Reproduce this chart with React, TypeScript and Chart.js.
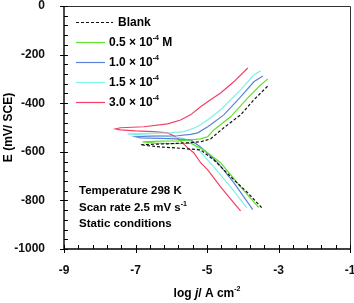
import React, { useEffect, useRef } from "react";
import { Chart, registerables } from "chart.js";
Chart.register(...registerables);

// ---- data (log j / A cm^-2 , E / mV vs SCE) ----
const blankX = [-3.47, -3.86, -4.25, -4.81, -5.18, -5.54, -5.88, -6.3, -6.86, -6.1, -5.54, -5.18, -4.9, -4.53, -4.06, -3.69, -3.27];
const blankY = [-830, -769, -715, -633, -592, -588, -584, -580, -571, -567, -563, -559, -547, -501, -448, -386, -325];

const c05X = [-3.55, -4.06, -4.62, -5.09, -5.46, -6.02, -6.44, -6.8, -6.3, -5.82, -5.46, -5.18, -4.98, -4.81, -4.34, -3.86, -3.5, -3.3];
const c05Y = [-830, -744, -645, -592, -565, -566, -564, -559, -556, -555, -551, -547, -538, -510, -456, -378, -325, -300];

const c10X = [-3.72, -4.25, -4.7, -5.18, -5.46, -5.88, -6.3, -6.86, -7.0, -6.58, -5.82, -5.46, -5.26, -4.98, -4.9, -4.53, -4.06, -3.69, -3.44];
const c10Y = [-838, -727, -645, -580, -551, -547, -545, -543, -538, -536, -534, -528, -522, -497, -489, -448, -374, -312, -288];

const c15X = [-3.89, -4.34, -4.81, -5.18, -5.46, -5.74, -6.3, -6.86, -7.22, -6.58, -6.02, -5.65, -5.37, -5.18, -4.9, -4.62, -4.06, -3.69, -3.5];
const c15Y = [-830, -744, -662, -600, -555, -543, -534, -530, -526, -524, -522, -517, -503, -489, -460, -427, -345, -284, -267];

const c30X = [-4.06, -4.25, -4.62, -4.98, -5.18, -5.37, -5.54, -5.74, -5.88, -6.1, -6.49, -7.0, -7.42, -7.56, -7.42, -6.77, -6.1, -5.74, -5.46, -5.18, -4.9, -4.62, -4.25, -3.86];
const c30Y = [-843, -810, -744, -674, -645, -604, -584, -555, -538, -522, -517, -514, -510, -506, -501, -497, -485, -469, -448, -415, -386, -358, -312, -255];

const seriesLabels = ["Blank", "0.5 × 10^{-4} M", "1.0 × 10^{-4}", "1.5 × 10^{-4}", "3.0 × 10^{-4}"];
const seriesColors = ["#111111", "#62e02c", "#5b82d9", "#7ff0ea", "#f43f66"];
const seriesX = [blankX, c05X, c10X, c15X, c30X];
const seriesY = [blankY, c05Y, c10Y, c15Y, c30Y];

const xTicks = [-9, -7, -5, -3, -1];
const yTicks = [0, -200, -400, -600, -800, -1000];
const notes = ["Temperature 298 K", "Scan rate 2.5 mV s^{-1}", "Static conditions"];
const yTitle = "E (mV/ SCE)";

const FONT = '"Liberation Sans", Arial, sans-serif';

type Part = { t: string; sup?: boolean; it?: boolean };
function parse(s: string): Part[] {
  const out: Part[] = [];
  const re = /\^\{([^}]*)\}/g;
  let last = 0;
  let m: RegExpExecArray | null;
  while ((m = re.exec(s))) {
    if (m.index > last) out.push({ t: s.slice(last, m.index) });
    out.push({ t: m[1], sup: true });
    last = m.index + m[0].length;
  }
  if (last < s.length) out.push({ t: s.slice(last) });
  return out;
}
function drawRich(ctx: CanvasRenderingContext2D, parts: Part[], x: number, y: number, size: number, align: "left" | "center") {
  const fontFor = (p: Part) => `${p.it ? "italic " : ""}bold ${p.sup ? Math.round(size * 0.62) : size}px ${FONT}`;
  let w = 0;
  for (const p of parts) { ctx.font = fontFor(p); w += ctx.measureText(p.t).width; }
  let cx = align === "center" ? x - w / 2 : x;
  ctx.textAlign = "left";
  ctx.textBaseline = "middle";
  for (const p of parts) {
    ctx.font = fontFor(p);
    ctx.fillText(p.t, cx, p.sup ? y - size * 0.38 : y);
    cx += ctx.measureText(p.t).width;
  }
}

const decor = {
  id: "decor",
  afterDraw(chart: any) {
    const ctx: CanvasRenderingContext2D = chart.ctx;
    const { left, right, top, bottom } = chart.chartArea;
    const xs = chart.scales.x, ys = chart.scales.y;
    ctx.save();
    // frame
    ctx.strokeStyle = "#333";
    ctx.lineWidth = 1;
    ctx.beginPath();
    ctx.moveTo(left, top + 0.5); ctx.lineTo(right + 0.5, top + 0.5); ctx.lineTo(right + 0.5, bottom);
    ctx.stroke();
    ctx.strokeStyle = "#000";
    ctx.lineWidth = 1.4;
    ctx.beginPath();
    ctx.moveTo(left, top); ctx.lineTo(left, bottom); ctx.lineTo(right, bottom);
    ctx.stroke();
    // ticks
    ctx.lineWidth = 1;
    ctx.beginPath();
    for (let k = 0; k <= 20; k++) {
      const v = -9 + k * 0.4;
      const px = Math.round(xs.getPixelForValue(v)) + 0.5;
      const major = k % 5 === 0;
      ctx.moveTo(px, bottom - 4); ctx.lineTo(px, bottom + (major ? 4 : 0));
    }
    for (let k = 0; k <= 25; k++) {
      const v = -k * 40;
      const py = Math.round(ys.getPixelForValue(v)) + 0.5;
      const major = k % 5 === 0;
      ctx.moveTo(left - (major ? 4 : 0), py); ctx.lineTo(left + 4, py);
    }
    ctx.stroke();

    ctx.fillStyle = "#000";
    // legend
    const rows = [22, 42, 62, 82, 102];
    chart.data.datasets.forEach((ds: any, i: number) => {
      const y = rows[i] + 0.5;
      ctx.strokeStyle = ds.borderColor;
      ctx.lineWidth = ds.borderWidth;
      ctx.setLineDash(ds.borderDash || []);
      ctx.beginPath();
      ctx.moveTo(76, y); ctx.lineTo(i === 0 ? 113 : 105, y);
      ctx.stroke();
      ctx.setLineDash([]);
      drawRich(ctx, parse(seriesLabels[i]), i === 0 ? 118 : 109, rows[i] + 1, 12, "left");
    });
    // notes
    const ny = [191, 208, 224];
    notes.forEach((n, i) => drawRich(ctx, parse(n), 79, ny[i], 11.5, "left"));
    // x title
    drawRich(ctx, [{ t: "log " }, { t: "j", it: true }, { t: "/ A cm" }, { t: "-2", sup: true }], (left + right) / 2, 294, 12, "center");
    // y title
    ctx.save();
    ctx.translate(9, (top + bottom) / 2);
    ctx.rotate(-Math.PI / 2);
    drawRich(ctx, [{ t: yTitle }], 0, 0, 12, "center");
    ctx.restore();
    ctx.restore();
  },
};

export default function App() {
  const ref = useRef<HTMLCanvasElement>(null);
  useEffect(() => {
    document.body.style.margin = "0";
    const datasets = seriesLabels.map((lab, i) => ({
      label: lab,
      data: seriesX[i].map((x, j) => ({ x, y: seriesY[i][j] })),
      borderColor: seriesColors[i],
      backgroundColor: seriesColors[i],
      borderWidth: 1.2,
      borderDash: i === 0 ? [3, 2] : [],
      showLine: true,
      pointRadius: 0,
      tension: 0,
    }));
    const chart = new Chart(ref.current!, {
      type: "scatter",
      data: { datasets },
      options: {
        animation: false,
        responsive: false,
        layout: { padding: { left: 0, top: 6, right: 4, bottom: 0 } },
        plugins: { legend: { display: false }, tooltip: { enabled: false }, title: { display: false } },
        scales: {
          x: {
            type: "linear",
            min: -9,
            max: -1,
            grid: { display: false },
            border: { display: false },
            afterBuildTicks: (s: any) => { s.ticks = xTicks.map((v) => ({ value: v })); },
            afterFit: (s: any) => { s.height = 54; s.paddingRight = 4; s.paddingLeft = 0; },
            ticks: { padding: 6, color: "#111", font: { family: FONT, size: 12, weight: "bold" }, callback: (v: any) => String(v) },
          },
          y: {
            type: "linear",
            min: -1000,
            max: 0,
            grid: { display: false },
            border: { display: false },
            afterBuildTicks: (s: any) => { s.ticks = yTicks.map((v) => ({ value: v })); },
            afterFit: (s: any) => { s.width = 64; s.paddingTop = 0; s.paddingBottom = 0; },
            ticks: { padding: 11, color: "#111", font: { family: FONT, size: 12, weight: "bold" }, callback: (v: any) => String(v) },
          },
        },
      },
      plugins: [decor],
    });
    return () => chart.destroy();
  }, []);
  return (
    <div style={{ width: 354, height: 303 }}>
      <canvas ref={ref} width={354} height={303} />
    </div>
  );
}
